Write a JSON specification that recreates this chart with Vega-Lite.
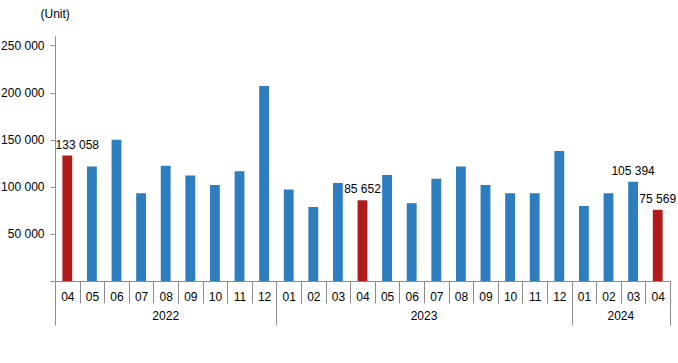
{
  "$schema": "https://vega.github.io/schema/vega-lite/v6.json",
  "width": 615,
  "height": 245,
  "autosize": "none",
  "padding": {"left": 55, "top": 36, "right": 8, "bottom": 82},
  "config": {
    "locale": {"number": {"decimal": ".", "thousands": " ", "grouping": [3], "currency": ["", ""]}},
    "view": {"stroke": null},
    "font": "Liberation Sans",
    "axis": {"labelFont": "Liberation Sans", "labelFontSize": 12, "labelColor": "#000000", "domainColor": "#8c8c8c", "tickColor": "#8c8c8c", "grid": false}
  },
  "data": {"values": [
    {"period": "2022-04", "value": 133058},
    {"period": "2022-05", "value": 121500},
    {"period": "2022-06", "value": 150000},
    {"period": "2022-07", "value": 93000},
    {"period": "2022-08", "value": 122400},
    {"period": "2022-09", "value": 112000},
    {"period": "2022-10", "value": 102000},
    {"period": "2022-11", "value": 116500},
    {"period": "2022-12", "value": 207000},
    {"period": "2023-01", "value": 97000},
    {"period": "2023-02", "value": 78600},
    {"period": "2023-03", "value": 104000},
    {"period": "2023-04", "value": 85652},
    {"period": "2023-05", "value": 112500},
    {"period": "2023-06", "value": 82600},
    {"period": "2023-07", "value": 108500},
    {"period": "2023-08", "value": 121500},
    {"period": "2023-09", "value": 102000},
    {"period": "2023-10", "value": 93000},
    {"period": "2023-11", "value": 93000},
    {"period": "2023-12", "value": 138000},
    {"period": "2024-01", "value": 79600},
    {"period": "2024-02", "value": 93000},
    {"period": "2024-03", "value": 105394},
    {"period": "2024-04", "value": 75569}
  ]},
  "layer": [
    {
      "mark": {"type": "bar", "width": {"band": 0.4}},
      "encoding": {
        "x": {
          "field": "period", "type": "ordinal", "sort": null,
          "scale": {"paddingInner": 0, "paddingOuter": 0},
          "axis": {
            "title": null, "orient": "bottom",
            "labelExpr": "isString(datum.value) ? substring(datum.value, 5) : ''",
            "labelAngle": 0,
            "tickBand": "extent",
            "tickSize": 22,
            "labelPadding": -12
          }
        },
        "y": {
          "field": "value", "type": "quantitative",
          "scale": {"domain": [0, 250000]},
          "axis": {
            "title": "(Unit)", "titleAngle": 0, "titleAlign": "left", "titleBaseline": "middle",
            "titleX": -15, "titleY": -23, "titleFontWeight": "normal", "titleFontSize": 12, "titleFont": "Liberation Sans", "titleColor": "#000000",
            "values": [0, 50000, 100000, 150000, 200000, 250000],
            "labelExpr": "datum.value == 0 ? '' : format(datum.value, ',')",
            "tickSize": 5, "labelPadding": 6
          }
        },
        "color": {"condition": {"test": "substring(datum.period, 5) == '04'", "value": "#b01c1c"}, "value": "#2e7dbf"}
      }
    },
    {
      "transform": [{"filter": "indexof(['2023-04','2024-03','2024-04'], datum.period) >= 0"}],
      "mark": {"type": "text", "baseline": "bottom", "dy": -4, "fontSize": 12, "color": "#000000"},
      "encoding": {
        "x": {
          "field": "period", "type": "ordinal", "sort": null,
          "axis": {
            "title": null, "orient": "bottom", "domain": false, "ticks": false, "labelAngle": 0,
            "labelPadding": 29,
            "labelExpr": "datum.value == '2022-08' ? '2022' : datum.value == '2023-06' ? '2023' : datum.value == '2024-02' ? '2024' : ''",
            "labelOffset": {"condition": {"test": "datum.value == '2022-08'", "value": 0}, "value": 12.3}
          }
        },
        "y": {"field": "value", "type": "quantitative"},
        "text": {"field": "value", "type": "quantitative", "format": ","}
      }
    },
    {
      "transform": [{"filter": "datum.period == '2022-04'"}],
      "mark": {"type": "text", "baseline": "bottom", "dy": -4, "dx": 10, "fontSize": 12, "color": "#000000"},
      "encoding": {
        "x": {
          "field": "period", "type": "ordinal", "sort": null,
          "axis": {
            "title": null, "orient": "bottom", "domain": false, "labels": false,
            "tickBand": "extent", "tickSize": 44,
            "tickOpacity": {"condition": {"test": "!isString(datum.value) || indexof(['2022-12','2023-12','2024-04'], datum.value) >= 0", "value": 1}, "value": 0}
          }
        },
        "y": {"field": "value", "type": "quantitative"},
        "text": {"field": "value", "type": "quantitative", "format": ","}
      }
    }
  ],
  "resolve": {"axis": {"x": "independent"}}
}
